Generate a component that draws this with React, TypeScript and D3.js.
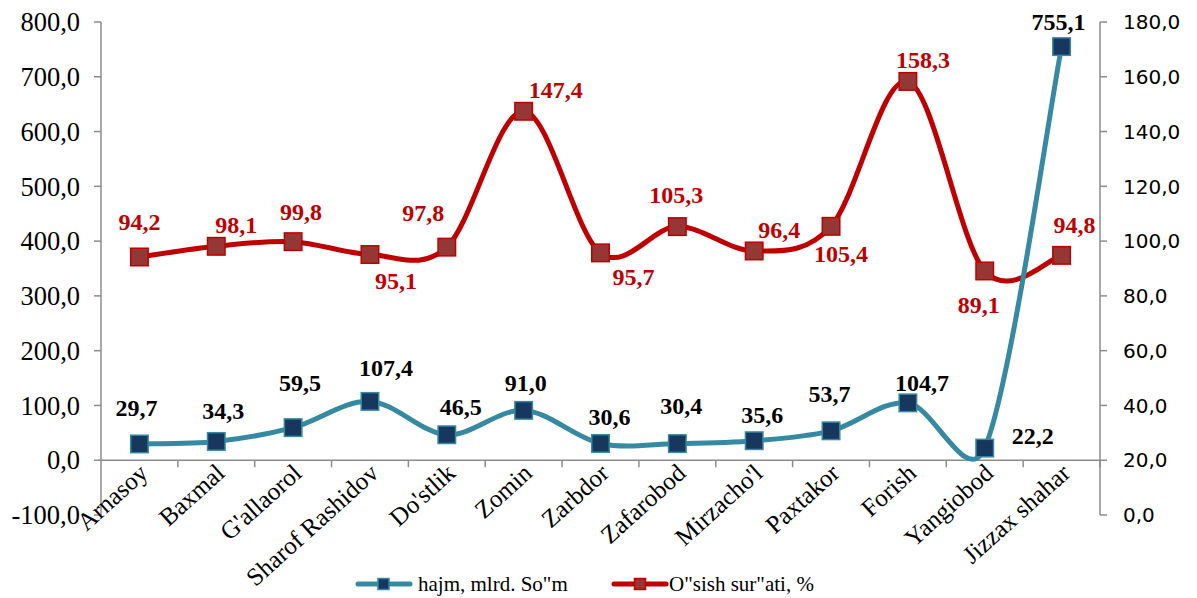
import React from "react";
import * as d3 from "d3";

const categories = ["Arnasoy", "Baxmal", "G'allaorol", "Sharof Rashidov", "Do'stlik", "Zomin", "Zarbdor", "Zafarobod", "Mirzacho'l", "Paxtakor", "Forish", "Yangiobod", "Jizzax shahar"];
const hajm = [29.7, 34.3, 59.5, 107.4, 46.5, 91.0, 30.6, 30.4, 35.6, 53.7, 104.7, 22.2, 755.1];
const osish = [94.2, 98.1, 99.8, 95.1, 97.8, 147.4, 95.7, 105.3, 96.4, 105.4, 158.3, 89.1, 94.8];
const leftTicks = [-100, 0, 100, 200, 300, 400, 500, 600, 700, 800];
const rightTicks = [0, 20, 40, 60, 80, 100, 120, 140, 160, 180];
const seriesNames = ["hajm, mlrd. So\"m", "O\"sish sur\"ati, %"];

// label offsets (layout, px) relative to the marker
const hajmLabelOffset: [number, number][] = [
  [-3, -36], [7, -31], [7, -45], [16, -34], [14, -28], [2, -28], [9, -27], [4, -38], [8, -26], [-1.5, -37], [14, -20], [48, -12.5], [-3, -25],
];
const osishLabelOffset: [number, number][] = [
  [0, -35], [20, -22], [8, -30], [26, 26], [-23.5, -35], [32, -22], [33, 24], [-1, -32], [25, -21], [10, 27], [15, -22], [-6, 34], [13, -31],
];

const fmt = (v: number) => v.toFixed(1).replace(".", ",");

// Excel-like smoothed line: cardinal bezier with control lengths limited by segment length
function smoothPath(pts: [number, number][]): string {
  const n = pts.length;
  const T = pts.map((p, i) => {
    const a = pts[Math.max(0, i - 1)];
    const b = pts[Math.min(n - 1, i + 1)];
    return [(b[0] - a[0]) / 6, (b[1] - a[1]) / 6] as [number, number];
  });
  const p = d3.path();
  p.moveTo(pts[0][0], pts[0][1]);
  for (let i = 0; i < n - 1; i++) {
    const P = pts[i], Q = pts[i + 1];
    const L = Math.hypot(Q[0] - P[0], Q[1] - P[1]);
    const t1 = T[i], t2 = T[i + 1];
    const l1 = Math.hypot(t1[0], t1[1]) || 1;
    const l2 = Math.hypot(t2[0], t2[1]) || 1;
    const f1 = Math.min(1, (0.5 * L) / l1);
    const f2 = Math.min(1, (0.5 * L) / l2);
    p.bezierCurveTo(P[0] + t1[0] * f1, P[1] + t1[1] * f1, Q[0] - t2[0] * f2, Q[1] - t2[1] * f2, Q[0], Q[1]);
  }
  return p.toString();
}

export default function App() {
  const W = 1197, H = 598;
  const x0 = 101, x1 = 1100;
  const yTop = 22, yBot = 515;
  const x = d3.scaleBand<string>().domain(categories).range([x0, x1]);
  const yL = d3.scaleLinear().domain([-100, 800]).range([yBot, yTop]);
  const yR = d3.scaleLinear().domain([0, 180]).range([yBot, yTop]);
  const cx = (c: string) => (x(c) as number) + x.bandwidth() / 2;
  const bluePath = smoothPath(hajm.map((v, i) => [cx(categories[i]), yL(v)] as [number, number]));
  const redPath = smoothPath(osish.map((v, i) => [cx(categories[i]), yR(v)] as [number, number]));
  const blue = "#3589A2";
  const blueFill = "#17375E";
  const red = "#C00000";
  const redFill = "#953735";
  const axisCol = "#8C8C8C";
  const serif = "'Liberation Serif', 'Times New Roman', serif";
  const sans = "'DejaVu Sans', Verdana, sans-serif";
  const ms = 17.5;
  const zeroY = yL(0);

  return (
    <svg width={W} height={H} style={{ display: "block", position: "absolute", left: 0, top: 0 }}>
      <rect width={W} height={H} fill="#fff" />
      {/* left axis */}
      <line x1={x0} x2={x0} y1={yTop} y2={yBot} stroke={axisCol} strokeWidth={1.5} />
      {leftTicks.map((t) => (
        <g key={"l" + t}>
          <line x1={x0 - 7} x2={x0} y1={yL(t)} y2={yL(t)} stroke={axisCol} strokeWidth={1.5} />
          <text x={80} y={yL(t)} dy="0.35em" textAnchor="end" fontFamily={serif} fontSize={26.5} fill="#000">{fmt(t)}</text>
        </g>
      ))}
      {/* right axis */}
      <line x1={x1} x2={x1} y1={yTop} y2={yBot} stroke={axisCol} strokeWidth={1.5} />
      {rightTicks.map((t) => (
        <g key={"r" + t}>
          <line x1={x1} x2={x1 + 7} y1={yR(t)} y2={yR(t)} stroke={axisCol} strokeWidth={1.5} />
          <text x={1123} y={yR(t)} dy="0.36em" textAnchor="start" fontFamily={sans} fontSize={20} fill="#000">{fmt(t)}</text>
        </g>
      ))}
      {/* category axis */}
      <line x1={x0} x2={x1} y1={zeroY} y2={zeroY} stroke={axisCol} strokeWidth={1.5} />
      {categories.map((c, i) => (
        <line key={"ct" + i} x1={(x(c) as number) + x.bandwidth()} x2={(x(c) as number) + x.bandwidth()} y1={zeroY} y2={zeroY + 7} stroke={axisCol} strokeWidth={1.5} />
      ))}
      {categories.map((c) => (
        <text key={"cl" + c} transform={`translate(${cx(c) + 10},${zeroY + 15}) rotate(-42)`} textAnchor="end" fontFamily={serif} fontSize={25} fill="#000">{c}</text>
      ))}
      {/* lines */}
      <path d={redPath} fill="none" stroke={red} strokeWidth={5} />
      <path d={bluePath} fill="none" stroke={blue} strokeWidth={5} />
      {osish.map((v, i) => (
        <rect key={"rm" + i} x={cx(categories[i]) - ms / 2} y={yR(v) - ms / 2} width={ms} height={ms} fill={redFill} stroke={red} strokeWidth={1.5} />
      ))}
      {hajm.map((v, i) => (
        <rect key={"bm" + i} x={cx(categories[i]) - ms / 2} y={yL(v) - ms / 2} width={ms} height={ms} fill={blueFill} stroke={blue} strokeWidth={1.5} />
      ))}
      {/* data labels */}
      {hajm.map((v, i) => (
        <text key={"bl" + i} x={cx(categories[i]) + hajmLabelOffset[i][0]} y={yL(v) + hajmLabelOffset[i][1]} dy="0.35em" textAnchor="middle" fontFamily={serif} fontWeight="bold" fontSize={24} fill="#000">{fmt(v)}</text>
      ))}
      {osish.map((v, i) => (
        <text key={"rl" + i} x={cx(categories[i]) + osishLabelOffset[i][0]} y={yR(v) + osishLabelOffset[i][1]} dy="0.35em" textAnchor="middle" fontFamily={serif} fontWeight="bold" fontSize={24} fill={red}>{fmt(v)}</text>
      ))}
      {/* legend */}
      <g>
        <line x1={358} x2={410} y1={584} y2={584} stroke={blue} strokeWidth={5} strokeLinecap="round" />
        <rect x={383.5 - 5.5} y={584 - 5.5} width={11} height={11} fill={blueFill} stroke={blue} strokeWidth={1.5} />
        <text x={418} y={584} dy="0.35em" fontFamily={serif} fontSize={21} fill="#000">{seriesNames[0]}</text>
        <line x1={614} x2={666} y1={584} y2={584} stroke={red} strokeWidth={5} strokeLinecap="round" />
        <rect x={640 - 5.5} y={584 - 5.5} width={11} height={11} fill={redFill} stroke={red} strokeWidth={1.5} />
        <text x={669} y={584} dy="0.35em" fontFamily={serif} fontSize={21} fill="#000">{seriesNames[1]}</text>
      </g>
    </svg>
  );
}
